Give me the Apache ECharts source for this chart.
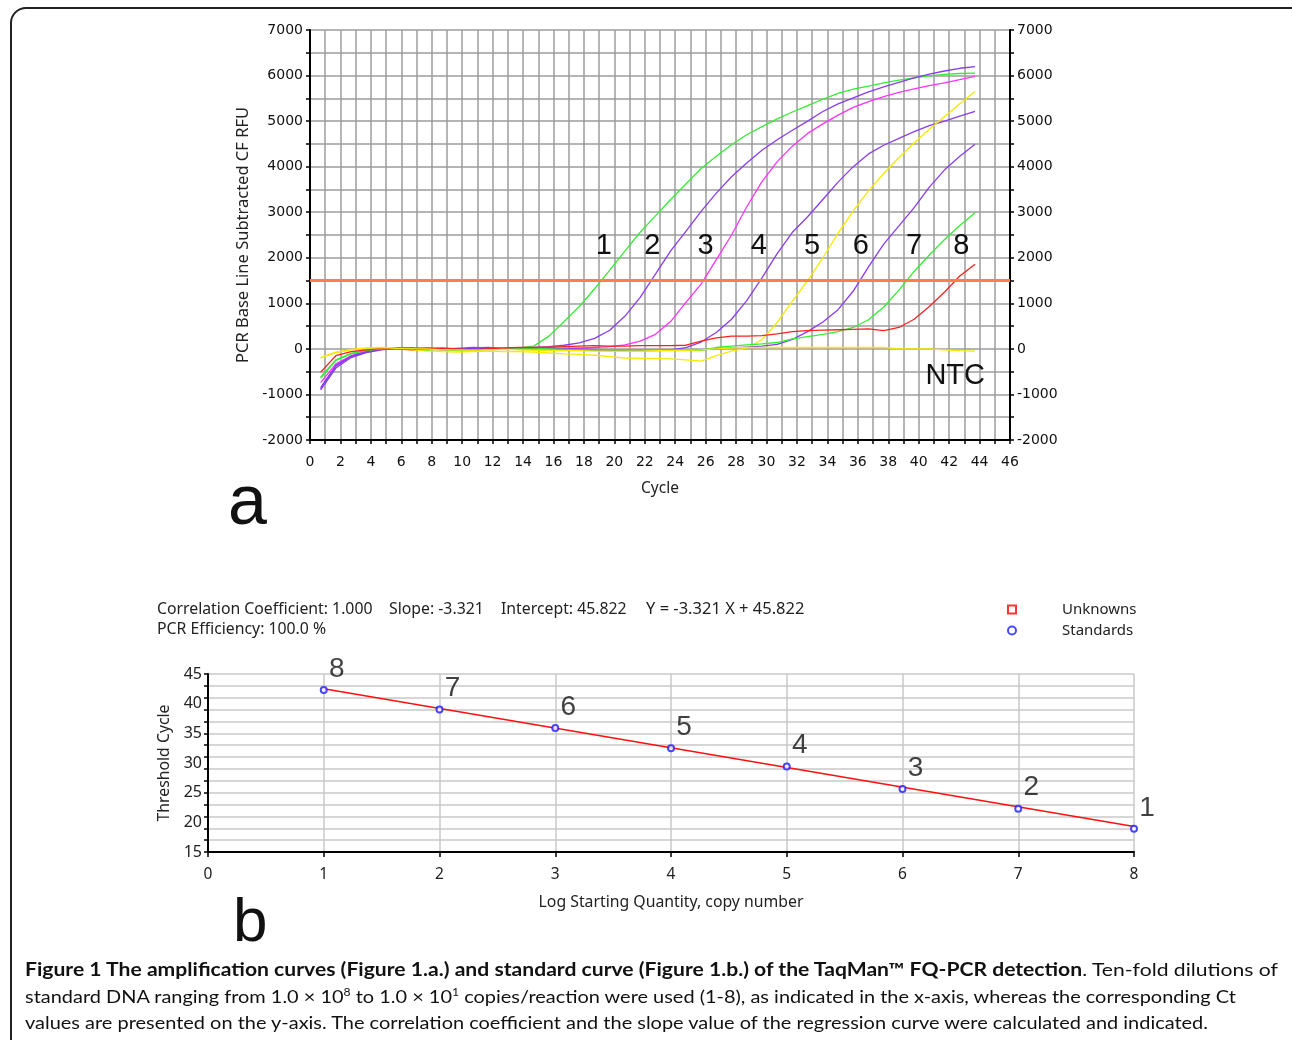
<!DOCTYPE html>
<html><head><meta charset="utf-8">
<script src="https://cdn.jsdelivr.net/npm/echarts@6/dist/echarts.min.js"></script>
<style>
html,body{margin:0;padding:0;background:#fff;width:1292px;height:1040px;overflow:hidden;}
#frame{position:absolute;left:10px;top:7px;width:1320px;height:1080px;border:2px solid #222;border-radius:16px;box-sizing:border-box;}
#chart{position:absolute;left:0;top:0;width:1292px;height:1040px;}
#cap{position:absolute;left:25px;top:956px;font-family:Lato,'Open Sans',sans-serif;font-size:18px;line-height:26.5px;white-space:nowrap;color:#111;}
#cap div{display:block;width:max-content;transform-origin:0 0;}
#cap b{font-weight:700}
#cap sup{font-size:11px;line-height:0;vertical-align:7px}
</style></head><body>
<div id="frame"></div>
<div id="chart"></div>
<div id="cap">
<div data-w="1253"><b>Figure 1 The amplification curves (Figure 1.a.) and standard curve (Figure 1.b.) of the TaqMan™ FQ-PCR detection</b>. Ten-fold dilutions of</div>
<div data-w="1211">standard DNA ranging from 1.0 × 10<sup>8</sup> to 1.0 × 10<sup>1</sup> copies/reaction were used (1-8), as indicated in the x-axis, whereas the corresponding Ct</div>
<div data-w="1183">values are presented on the y-axis. The correlation coefficient and the slope value of the regression curve were calculated and indicated.</div>
</div>
<script>
// ---------- Panel a: amplification curves ----------
const cycles = [0.7,1.7,2.7,3.7,4.7,5.7,6.7,7.7,8.7,9.7,10.7,11.7,12.7,13.7,14.7,15.7,16.7,17.7,18.7,19.7,20.7,21.7,22.7,23.7,24.7,25.7,26.7,27.7,28.7,29.7,30.7,31.7,32.7,33.7,34.7,35.7,36.7,37.7,38.7,39.7,40.7,41.7,42.7,43.7];
const curve1 = [-640,-250,-110,-40,0,10,0,10,-10,-30,-20,0,10,20,60,280,600,930,1320,1730,2150,2560,2920,3280,3620,3960,4230,4480,4700,4880,5050,5200,5340,5480,5610,5700,5770,5840,5900,5950,5995,6025,6045,6055];
const curve2 = [-900,-420,-190,-80,-20,10,10,0,-20,-10,20,10,0,20,30,50,80,130,230,410,720,1130,1640,2150,2580,3020,3420,3780,4080,4360,4590,4800,5000,5210,5380,5510,5640,5750,5850,5950,6030,6100,6160,6195];
const curve3 = [-740,-330,-150,-60,0,20,10,-10,0,10,0,-10,0,10,0,0,10,20,30,50,90,170,320,600,1020,1420,1960,2500,3120,3670,4110,4450,4730,4940,5130,5300,5430,5540,5630,5710,5780,5840,5910,5980];
const curve4 = [-880,-380,-170,-70,-10,10,20,0,-10,10,30,20,0,10,20,0,-20,-30,-30,-40,-40,-40,-40,-20,30,150,360,650,1060,1560,2090,2560,2900,3280,3660,4000,4280,4470,4620,4770,4900,5000,5110,5215];
const curve5 = [-190,-70,-20,10,20,0,-20,-40,-60,-70,-60,-50,-60,-60,-70,-90,-110,-120,-140,-170,-200,-210,-210,-220,-240,-270,-150,-50,20,200,580,1050,1500,2000,2540,3030,3470,3850,4200,4520,4820,5100,5380,5650];
const curve6 = [-850,-360,-160,-60,-10,10,10,20,0,-10,20,30,10,0,10,20,10,0,-10,-20,-30,-30,-30,-30,-30,-20,0,20,40,60,100,210,380,590,860,1270,1800,2300,2700,3100,3550,3930,4230,4490];
const curve7 = [-620,-240,-100,-30,0,10,0,-20,-10,-40,-30,-10,0,10,10,0,-10,-20,-20,-20,-20,-20,-20,-20,-30,-30,30,60,90,110,140,220,270,320,380,470,640,920,1290,1700,2060,2400,2710,2990];
const curve8 = [-510,-150,-60,-20,10,0,-20,10,20,0,-20,0,20,30,30,40,50,60,70,60,60,70,70,70,80,170,240,280,280,290,330,380,400,410,420,430,440,400,470,650,930,1250,1600,1860];
const curveNTC = [-200,-80,-10,20,30,10,0,0,-20,-20,-30,-20,-10,-20,-30,-30,-40,-40,-50,-50,-50,-50,-40,-40,-30,-20,0,20,30,30,30,30,30,30,30,30,30,30,0,0,0,-20,-40,-50];
const thresholdRFU = 1500;
const curveNames = ['1','2','3','4','5','6','7','8'];
const curveLabelCycles = [19.3,22.5,26.0,29.5,33.0,36.2,39.7,42.8];
const curveLabelRFU = 2250;
const ntcLabelAt = [42.4,-590];

// ---------- Panel b: standard curve ----------
const logQuantity = [1,2,3,4,5,6,7,8];
const thresholdCycle = [42.3,39.0,35.9,32.5,29.4,25.6,22.3,18.9];
const standardNames = ['8','7','6','5','4','3','2','1'];
const fitX = [1,8];
const fitY = [42.5,19.3];
const statsText = ['Correlation Coefficient: 1.000','Slope: -3.321','Intercept: 45.822','Y = -3.321 X + 45.822'];
const statsText2 = 'PCR Efficiency: 100.0 %';

const zip = (xs, ys) => xs.map((x, i) => [x, ys[i]]);
const curves = [curve1,curve2,curve3,curve4,curve5,curve6,curve7,curve8];
const colors = ['#33ee33','#8a3cf0','#ff33ff','#8a3cf0','#f5ea00','#8a3cf0','#33ee33','#ff2020'];
const gridGray = '#9c9c9c';
const numFont = 'Liberation Sans';

const series = [];
[0,1,2,3,4,5,6,7].forEach(i => {
  series.push({
    type: 'line', xAxisIndex: 0, yAxisIndex: 0, name: 'c' + curveNames[i],
    data: zip(cycles, curves[i]), showSymbol: false, silent: true, animation: false,
    lineStyle: { color: colors[i], width: 1.3 }, itemStyle: { color: colors[i] },
    z: 3,
    markPoint: {
      symbol: 'rect', symbolSize: 1, itemStyle: { color: 'rgba(0,0,0,0)' }, animation: false,
      label: { show: true, formatter: '{b}', color: '#111', fontSize: 29, fontFamily: numFont, position: 'inside' },
      data: [{ name: curveNames[i], coord: [curveLabelCycles[i], curveLabelRFU] }]
    }
  });
});
series.push({
  type: 'line', xAxisIndex: 0, yAxisIndex: 0, name: 'NTC',
  data: zip(cycles, curveNTC), showSymbol: false, silent: true, animation: false,
  lineStyle: { color: '#f5ea00', width: 1.3 }, z: 3,
  markPoint: {
    symbol: 'rect', symbolSize: 1, itemStyle: { color: 'rgba(0,0,0,0)' }, animation: false,
    label: { show: true, formatter: '{b}', color: '#111', fontSize: 29, fontFamily: numFont, position: 'inside' },
    data: [{ name: 'NTC', coord: ntcLabelAt }]
  },
  markLine: {
    silent: true, symbol: 'none', animation: false,
    lineStyle: { color: '#ff8040', width: 3, type: 'solid' }, label: { show: false },
    data: [{ yAxis: thresholdRFU }]
  }
});
// panel b
series.push({
  type: 'line', xAxisIndex: 1, yAxisIndex: 2, name: 'fit', data: zip(fitX, fitY),
  showSymbol: false, silent: true, animation: false, lineStyle: { color: '#ff1010', width: 1.6 }, z: 3
});
series.push({
  type: 'scatter', xAxisIndex: 1, yAxisIndex: 2, name: 'Unknowns', data: [],
  symbol: 'emptyRect', itemStyle: { color: '#ff0000', borderWidth: 1.5 }
});
series.push({
  type: 'scatter', xAxisIndex: 1, yAxisIndex: 2, name: 'Standards',
  data: logQuantity.map((x, i) => ({ value: [x, thresholdCycle[i]], name: standardNames[i] })),
  symbol: 'emptyCircle', symbolSize: 6, z: 4, animation: false,
  itemStyle: { color: '#1a1aff', borderWidth: 1.3 },
  label: { show: true, formatter: '{b}', position: 'top', distance: 2, offset: [13, -1], color: '#111', fontSize: 28, fontFamily: numFont }
});

const topLabelFont = { color: '#111', fontSize: 14, fontFamily: 'DejaVu Sans' };

const option = {
  animation: false,
  backgroundColor: 'transparent',
  grid: [
    { left: 310, top: 30, width: 700, height: 410, containLabel: false },
    { left: 208, top: 674, width: 926, height: 178, containLabel: false }
  ],
  legend: {
    data: [{ name: 'Unknowns', itemStyle: { borderWidth: 1.5 } }, { name: 'Standards' }],
    orient: 'vertical', left: 1002, top: 597,
    itemWidth: 8, itemHeight: 8, itemGap: 6, selectedMode: false,
    textStyle: { color: '#222', fontSize: 15, fontFamily: 'Noto Sans', padding: [0, 0, 0, 41] }
  },
  xAxis: [
    {
      type: 'value', gridIndex: 0, min: 0, max: 46, interval: 1,
      axisLine: { show: true, onZero: false, lineStyle: { color: '#000', width: 2 } },
      axisTick: { show: true, length: 4, lineStyle: { color: '#000', width: 1.5 } },
      axisLabel: { ...topLabelFont, margin: 15, formatter: v => (v % 2 === 0 ? String(v) : '') },
      splitLine: { show: true, lineStyle: { color: gridGray, width: 1.5 } },
      name: 'Cycle', nameLocation: 'middle', nameGap: 41,
      nameTextStyle: { color: '#222', fontSize: 15.5, fontFamily: 'Noto Sans' }
    },
    {
      type: 'value', gridIndex: 1, min: 0, max: 8, interval: 1,
      axisLine: { show: true, onZero: false, lineStyle: { color: '#000', width: 2 } },
      axisTick: { show: true, length: 5, lineStyle: { color: '#000', width: 1.5 } },
      axisLabel: { color: '#222', fontSize: 15.5, fontFamily: 'Noto Sans', margin: 15 },
      splitLine: { show: true, lineStyle: { color: '#c8c8c8', width: 1.5 } },
      name: 'Log Starting Quantity, copy number', nameLocation: 'middle', nameGap: 42,
      nameTextStyle: { color: '#222', fontSize: 15.8, fontFamily: 'Noto Sans' }
    }
  ],
  yAxis: [
    {
      type: 'value', gridIndex: 0, position: 'left', min: -2000, max: 7000, interval: 500,
      axisLine: { show: true, onZero: false, lineStyle: { color: '#000', width: 2 } },
      axisTick: { show: true, length: 4, lineStyle: { color: '#000', width: 1.5 } },
      axisLabel: { ...topLabelFont, margin: 7, formatter: v => (v % 1000 === 0 ? String(v) : '') },
      splitLine: { show: true, lineStyle: { color: gridGray, width: 1.5 } },
      name: 'PCR Base Line Subtracted CF RFU', nameLocation: 'middle', nameGap: 58, nameRotate: 90,
      nameTextStyle: { color: '#222', fontSize: 16.5, fontFamily: 'Noto Sans' }
    },
    {
      type: 'value', gridIndex: 0, position: 'right', min: -2000, max: 7000, interval: 500,
      axisLine: { show: true, onZero: false, lineStyle: { color: '#000', width: 2 } },
      axisTick: { show: true, length: 4, lineStyle: { color: '#000', width: 1.5 } },
      axisLabel: { ...topLabelFont, margin: 7, formatter: v => (v % 1000 === 0 ? String(v) : '') },
      splitLine: { show: false }
    },
    {
      type: 'value', gridIndex: 1, position: 'left', min: 15, max: 45, interval: 5,
      axisLine: { show: true, onZero: false, lineStyle: { color: '#000', width: 2 } },
      axisTick: { show: false },
      axisLabel: { color: '#222', fontSize: 16, fontFamily: 'Noto Sans', margin: 6 },
      splitLine: { show: false },
      name: 'Threshold Cycle', nameLocation: 'middle', nameGap: 30, nameRotate: 90,
      nameTextStyle: { color: '#222', fontSize: 15.8, fontFamily: 'Noto Sans' }
    },
    {
      type: 'value', gridIndex: 1, position: 'left', min: 15, max: 45, interval: 2,
      axisLine: { show: false }, axisLabel: { show: false },
      axisTick: { show: true, length: 4, lineStyle: { color: '#000', width: 1.5 } },
      splitLine: { show: true, lineStyle: { color: '#c8c8c8', width: 1.5 } }
    }
  ],
  graphic: [
    { type: 'text', left: 228, top: 470, style: { text: 'a', font: '70px "Liberation Sans"', fill: '#111' } },
    { type: 'text', left: 233, top: 893, style: { text: 'b', font: '62px "Liberation Sans"', fill: '#111' } },
    { type: 'text', x: 157, y: 609, style: { text: statsText[0], font: '15.8px "Noto Sans"', fill: '#222', verticalAlign: 'middle' } },
    { type: 'text', x: 389, y: 609, style: { text: statsText[1], font: '15.8px "Noto Sans"', fill: '#222', verticalAlign: 'middle' } },
    { type: 'text', x: 501, y: 609, style: { text: statsText[2], font: '15.8px "Noto Sans"', fill: '#222', verticalAlign: 'middle' } },
    { type: 'text', x: 646, y: 609, style: { text: statsText[3], font: '16.5px "Noto Sans"', fill: '#222', verticalAlign: 'middle' } },
    { type: 'text', x: 157, y: 629, style: { text: statsText2, font: '15.8px "Noto Sans"', fill: '#222', verticalAlign: 'middle' } }
  ],
  series: series
};

const chart = echarts.init(document.getElementById('chart'), null, { renderer: 'canvas' });
chart.setOption(option);

// fit each caption line to the reference line length
document.querySelectorAll('#cap div').forEach(d => {
  const w = d.getBoundingClientRect().width;
  d.style.transform = 'scaleX(' + (Number(d.dataset.w) / w) + ')';
});
</script>
</body></html>
